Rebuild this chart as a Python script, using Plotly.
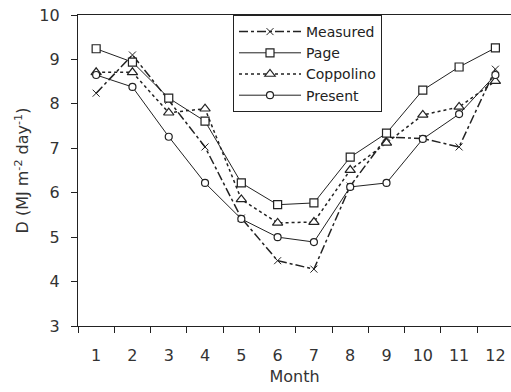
import plotly.graph_objects as go

months = ["1", "2", "3", "4", "5", "6", "7", "8", "9", "10", "11", "12"]
measured = [8.24, 9.10, 8.08, 7.03, 5.43, 4.47, 4.28, 6.15, 7.25, 7.22, 7.03, 8.78]
page = [9.24, 8.94, 8.13, 7.61, 6.22, 5.73, 5.77, 6.80, 7.34, 8.31, 8.83, 9.26]
coppolino = [8.71, 8.71, 7.80, 7.89, 5.85, 5.32, 5.34, 6.51, 7.12, 7.75, 7.93, 8.51]
present = [8.65, 8.38, 7.26, 6.22, 5.41, 5.00, 4.89, 6.13, 6.22, 7.21, 7.77, 8.65]

FONT = "DejaVu Sans"
INK = "#222222"

fig = go.Figure()
fig.add_trace(go.Scatter(
    x=months, y=measured, name="Measured", mode="lines+markers",
    line=dict(color=INK, width=1.5, dash="dashdot"),
    marker=dict(symbol="x-thin", size=7, color=INK, line=dict(color=INK, width=1)),
))
fig.add_trace(go.Scatter(
    x=months, y=page, name="Page", mode="lines+markers",
    line=dict(color=INK, width=1),
    marker=dict(symbol="square", size=8, color="white", line=dict(color=INK, width=1.2)),
))
fig.add_trace(go.Scatter(
    x=months, y=coppolino, name="Coppolino", mode="lines+markers",
    line=dict(color=INK, width=1.5, dash="dot"),
    marker=dict(symbol="triangle-up", size=9, color="white", line=dict(color=INK, width=1.2)),
))
fig.add_trace(go.Scatter(
    x=months, y=present, name="Present", mode="lines+markers",
    line=dict(color=INK, width=1),
    marker=dict(symbol="circle", size=7, color="white", line=dict(color=INK, width=1.2)),
))

fig.update_layout(
    width=511, height=392,
    margin=dict(l=78, r=0, t=15, b=66),
    paper_bgcolor="white", plot_bgcolor="white",
    font=dict(family=FONT, size=16, color="#333333"),
    showlegend=True,
    legend=dict(
        x=(233 - 78) / 433, y=1, xanchor="left", yanchor="top",
        bgcolor="white", bordercolor=INK, borderwidth=1,
        font=dict(family=FONT, size=14, color="#222222"),
        itemwidth=62, tracegroupgap=0,
    ),
    xaxis=dict(
        type="category", range=[-0.5, 11.43],
        tickson="boundaries", ticks="outside", ticklen=6, tickcolor=INK,
        showline=True, linecolor=INK, linewidth=1.2, mirror=True,
        showgrid=False, zeroline=False,
        ticklabelstandoff=15,
        title=dict(text="Month", font=dict(size=16), standoff=6),
    ),
    yaxis=dict(
        range=[3, 10], dtick=1, tick0=3,
        ticks="outside", ticklen=6, tickcolor=INK,
        showline=True, linecolor=INK, linewidth=1.2, mirror=False,
        showgrid=False, zeroline=False,
        ticklabelstandoff=8,
        title=dict(text="D (MJ m<sup>-2</sup> day<sup>-1</sup>)", font=dict(size=16), standoff=6),
    ),
)

fig.write_html("out.html")
